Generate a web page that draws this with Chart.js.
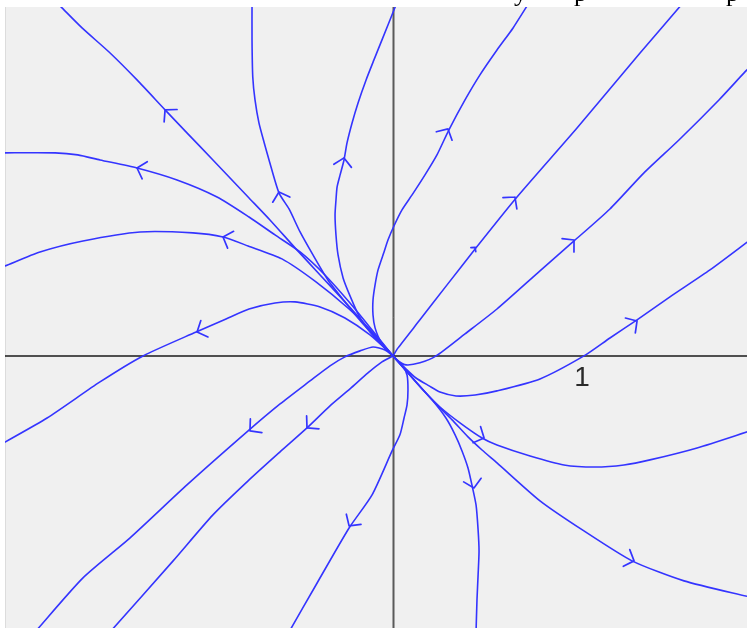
<!DOCTYPE html>
<html>
<head>
<meta charset="utf-8">
<script src="https://cdn.jsdelivr.net/npm/chart.js@4/dist/chart.umd.min.js"></script>
<style>
  html, body { margin: 0; padding: 0; background: #ffffff; }
  canvas { display: block; }
</style>
</head>
<body>
<canvas id="portrait" width="747" height="628"></canvas>
<script>
// Phase portrait of an unstable node: every trajectory leaves the origin.
// Points are [x, y] in plot units, listed in the direction of motion.

const xRange = [-2.075, 1.893];
const yRange = [-1.455, 1.866];
const xTickValues = [1];
const xTickLabels = ['1'];

const curveA = [[0,0],[-0.123,0.139],[-0.257,0.289],[-0.390,0.433],[-0.524,0.578],[-0.658,0.727],[-0.775,0.850],[-0.963,1.048],[-1.102,1.193],[-1.219,1.316],[-1.369,1.476],[-1.513,1.620],[-1.663,1.754],[-1.770,1.861],[-1.791,1.882]];
const curveB = [[0,0],[-0.112,0.139],[-0.230,0.283],[-0.364,0.433],[-0.497,0.556],[-0.631,0.647],[-0.770,0.743],[-0.941,0.850],[-1.155,0.941],[-1.369,1.005],[-1.567,1.048],[-1.686,1.075],[-1.807,1.086],[-2.102,1.086]];
const curveC = [[0,0],[-0.150,0.160],[-0.257,0.289],[-0.348,0.406],[-0.428,0.540],[-0.497,0.663],[-0.556,0.786],[-0.610,0.872],[-0.663,1.048],[-0.690,1.144],[-0.717,1.246],[-0.738,1.369],[-0.750,1.492],[-0.754,1.690],[-0.754,1.888]];
const curveD = [[0,0],[-0.059,0.059],[-0.123,0.128],[-0.182,0.214],[-0.230,0.321],[-0.267,0.417],[-0.294,0.540],[-0.305,0.647],[-0.310,0.754],[-0.305,0.834],[-0.299,0.904],[-0.283,0.968],[-0.262,1.048],[-0.246,1.139],[-0.219,1.246],[-0.187,1.353],[-0.144,1.476],[-0.102,1.583],[-0.059,1.690],[0.005,1.850],[0.016,1.877]];
const curveE = [[0,0],[-0.064,0.075],[-0.096,0.150],[-0.107,0.219],[-0.107,0.299],[-0.096,0.380],[-0.080,0.460],[-0.048,0.556],[-0.027,0.620],[0.005,0.695],[0.048,0.781],[0.102,0.861],[0.171,0.968],[0.235,1.075],[0.299,1.209],[0.385,1.369],[0.465,1.503],[0.556,1.636],[0.642,1.754],[0.727,1.888]];
const curveF = [[0,0],[0.027,0.043],[0.144,0.193],[0.289,0.380],[0.439,0.572],[0.663,0.850],[0.984,1.219],[1.321,1.620],[1.551,1.888]];
const curveG = [[0,0],[0.027,-0.027],[0.070,-0.048],[0.144,-0.037],[0.230,0],[0.385,0.118],[0.556,0.251],[0.786,0.455],[0.968,0.615],[1.160,0.786],[1.342,0.979],[1.529,1.155],[1.743,1.369],[1.882,1.519],[1.909,1.545]];
const curveH = [[0,0],[0.070,-0.070],[0.123,-0.118],[0.193,-0.160],[0.251,-0.193],[0.337,-0.214],[0.439,-0.209],[0.556,-0.187],[0.786,-0.123],[1.021,0],[1.160,0.096],[1.305,0.193],[1.481,0.316],[1.695,0.460],[1.909,0.620]];
const curveI = [[0,0],[0.091,-0.102],[0.171,-0.193],[0.251,-0.273],[0.358,-0.358],[0.476,-0.439],[0.556,-0.476],[0.733,-0.535],[0.914,-0.583],[1.080,-0.594],[1.235,-0.583],[1.374,-0.556],[1.626,-0.492],[1.909,-0.401]];
const curveJ = [[0,0],[0.118,-0.134],[0.225,-0.251],[0.316,-0.342],[0.401,-0.433],[0.476,-0.503],[0.556,-0.572],[0.786,-0.775],[1.021,-0.936],[1.278,-1.096],[1.556,-1.203],[1.909,-1.289]];
const curveK = [[0,0],[0.118,-0.134],[0.214,-0.241],[0.283,-0.332],[0.332,-0.422],[0.369,-0.508],[0.401,-0.599],[0.422,-0.690],[0.444,-0.797],[0.455,-0.930],[0.460,-1.043],[0.455,-1.171],[0.449,-1.305],[0.444,-1.476]];
const curveL = [[0,0],[0.048,-0.048],[0.075,-0.102],[0.080,-0.182],[0.075,-0.262],[0.059,-0.332],[0.037,-0.422],[-0.005,-0.508],[-0.112,-0.743],[-0.235,-0.920],[-0.412,-1.225],[-0.556,-1.476]];
const curveM = [[0,0],[-0.112,0.128],[-0.235,0.251],[-0.412,0.396],[-0.594,0.519],[-0.775,0.588],[-0.909,0.636],[-1.070,0.658],[-1.353,0.663],[-1.658,0.615],[-1.888,0.556],[-2.075,0.481],[-2.102,0.471]];
const curveN = [[0,0],[-0.123,0.112],[-0.257,0.203],[-0.390,0.262],[-0.524,0.289],[-0.631,0.283],[-0.770,0.251],[-0.893,0.198],[-1.053,0.128],[-1.337,0],[-1.567,-0.139],[-1.850,-0.332],[-2.102,-0.476]];
const curveO = [[0,0],[-0.043,0.032],[-0.107,0.048],[-0.176,0.027],[-0.257,-0.005],[-0.337,-0.053],[-0.444,-0.134],[-0.604,-0.257],[-0.775,-0.401],[-1.102,-0.690],[-1.406,-0.973],[-1.658,-1.187],[-1.914,-1.476]];
const curveP = [[0,0],[-0.059,-0.032],[-0.134,-0.091],[-0.230,-0.176],[-0.337,-0.267],[-0.460,-0.385],[-0.604,-0.513],[-0.775,-0.668],[-0.963,-0.850],[-1.176,-1.096],[-1.513,-1.476]];

const trajectories = { A: curveA, B: curveB, C: curveC, D: curveD, E: curveE, F: curveF, G: curveG, H: curveH,
                       I: curveI, J: curveJ, K: curveK, L: curveL, M: curveM, N: curveN, O: curveO, P: curveP };

// Direction markers: which trajectory, where the tip sits, relative size.
const arrowCurve = ['A', 'B', 'C', 'D', 'E', 'F', 'F', 'G', 'H', 'I', 'J', 'K', 'L', 'M', 'N', 'O', 'P'];
const arrowTipX  = [-1.219, -1.369, -0.610, -0.262, 0.294, 0.652, 0.439, 0.968, 1.305, 0.487, 1.289, 0.433, -0.235, -0.909, -1.048, -0.765, -0.460];
const arrowTipY  = [ 1.316,  1.005,  0.877,  1.059, 1.214, 0.850, 0.580, 0.620, 0.187, -0.439, -1.096, -0.706, -0.909, 0.636, 0.128, -0.401, -0.385];
const arrowSize  = [1, 1, 1, 1, 1, 1, 0.35, 1, 1, 1, 1, 1, 1, 1, 1, 1, 1];

const LINE_COLOR = '#3434ff';

const portraitFrame = {
  id: 'portraitFrame',
  beforeDraw(chart) {
    const { ctx, chartArea: a } = chart;
    ctx.save();
    ctx.fillStyle = '#ffffff';
    ctx.fillRect(0, 0, chart.width, chart.height);
    // clipped heading glyphs along the top edge
    ctx.fillStyle = '#000000';
    ctx.font = '26px "Liberation Serif"';
    ctx.textBaseline = 'alphabetic';
    ctx.textAlign = 'left';
    ctx.fillText('y', 514, 0.5);
    ctx.fillText('p', 574, 0.5);
    ctx.fillText('p', 726, 0.5);
    // plot panel
    ctx.fillStyle = '#f0f0f0';
    ctx.fillRect(a.left, a.top, a.right - a.left, a.bottom - a.top);
    ctx.fillStyle = '#dcdcdc';
    ctx.fillRect(a.left, a.top, 1, a.bottom - a.top);
    ctx.restore();
  },
  beforeDatasetsDraw(chart) {
    const { ctx, chartArea: a, scales: { x, y } } = chart;
    const x0 = Math.round(x.getPixelForValue(0)) + 0.5;
    const y0 = y.getPixelForValue(0);
    ctx.save();
    // vertical axis
    ctx.strokeStyle = '#a4a4a4';
    ctx.lineWidth = 3;
    ctx.beginPath(); ctx.moveTo(x0, a.top); ctx.lineTo(x0, a.bottom); ctx.stroke();
    ctx.strokeStyle = '#5a5a5a';
    ctx.lineWidth = 1;
    ctx.beginPath(); ctx.moveTo(x0, a.top); ctx.lineTo(x0, a.bottom); ctx.stroke();
    // horizontal axis
    ctx.strokeStyle = '#1a1a1a';
    ctx.lineWidth = 1.5;
    ctx.beginPath(); ctx.moveTo(a.left, y0); ctx.lineTo(a.right, y0); ctx.stroke();
    // tick labels
    ctx.fillStyle = '#2a2a2a';
    ctx.font = '28px "Liberation Sans"';
    ctx.textAlign = 'center';
    ctx.textBaseline = 'alphabetic';
    xTickValues.forEach((v, i) => {
      ctx.fillText(xTickLabels[i], x.getPixelForValue(v) + 2, y0 + 30);
    });
    ctx.restore();
  },
  afterDatasetsDraw(chart) {
    const { ctx, scales: { x, y } } = chart;
    ctx.save();
    ctx.strokeStyle = LINE_COLOR;
    ctx.lineWidth = 1.7;
    ctx.lineCap = 'round';
    arrowCurve.forEach((name, i) => {
      const pts = trajectories[name].map(([px, py]) => [x.getPixelForValue(px), y.getPixelForValue(py)]);
      const tx = x.getPixelForValue(arrowTipX[i]);
      const ty = y.getPixelForValue(arrowTipY[i]);
      let best = Infinity, ux = 1, uy = 0;
      for (let k = 0; k < pts.length - 1; k++) {
        const [x1, y1] = pts[k], [x2, y2] = pts[k + 1];
        const dx = x2 - x1, dy = y2 - y1, L2 = dx * dx + dy * dy;
        if (!L2) continue;
        let t = ((tx - x1) * dx + (ty - y1) * dy) / L2;
        t = Math.max(0, Math.min(1, t));
        const d = Math.hypot(x1 + t * dx - tx, y1 + t * dy - ty);
        if (d < best) { best = d; const L = Math.sqrt(L2); ux = dx / L; uy = dy / L; }
      }
      const len = 12 * arrowSize[i];
      const ang = 48 * Math.PI / 180;
      ctx.beginPath();
      [-1, 1].forEach(s => {
        const c = Math.cos(s * ang), sn = Math.sin(s * ang);
        const rx = -ux * c + uy * sn, ry = -ux * sn - uy * c;
        ctx.moveTo(tx, ty);
        ctx.lineTo(tx + rx * len, ty + ry * len);
      });
      ctx.stroke();
    });
    ctx.restore();
  }
};

const datasets = Object.keys(trajectories).map(name => ({
  label: name,
  data: trajectories[name].map(([px, py]) => ({ x: px, y: py })),
  showLine: true,
  borderColor: LINE_COLOR,
  borderWidth: 1.6,
  pointRadius: 0,
  pointHoverRadius: 0,
  tension: 0.22,
  fill: false
}));

new Chart(document.getElementById('portrait'), {
  type: 'scatter',
  data: { datasets },
  options: {
    responsive: false,
    animation: false,
    events: [],
    layout: { padding: { left: 5, top: 7, right: 0, bottom: 0 } },
    plugins: { legend: { display: false }, tooltip: { enabled: false } },
    scales: {
      x: { type: 'linear', display: false, min: xRange[0], max: xRange[1] },
      y: { type: 'linear', display: false, min: yRange[0], max: yRange[1] }
    }
  },
  plugins: [portraitFrame]
});
</script>
</body>
</html>
